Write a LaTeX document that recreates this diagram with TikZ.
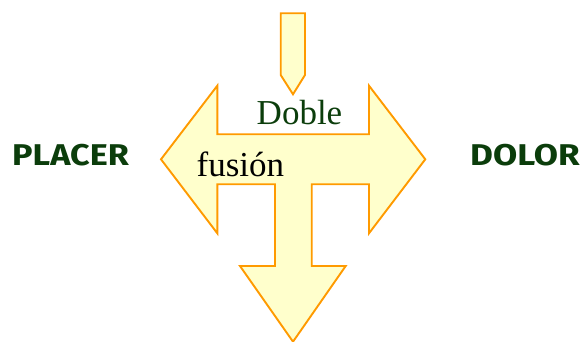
\documentclass[tikz,border=0pt]{standalone}
\usepackage{fontspec}
\setmainfont{Liberation Serif}
\newfontfamily\labelfont{Fira Sans}
\definecolor{arrowfill}{HTML}{FFFFCC}
\definecolor{arrowline}{HTML}{FF9A00}
\definecolor{darkgreen}{HTML}{0B3D0B}
\begin{document}
\begin{tikzpicture}[x=1pt,y=-1pt,
  arrowshape/.style={fill=arrowfill,draw=arrowline,line width=1.9pt,line join=miter},
  sidelabel/.style={font=\labelfont\bfseries\fontsize{30}{31}\selectfont,text=darkgreen,inner sep=0pt,anchor=base west},
  midlabel/.style={font=\fontsize{35}{36}\selectfont,inner sep=0pt}]
\useasboundingbox (0,0) rectangle (582,342);
% small arrow
\draw[arrowshape] (280.7,13.3) -- (305,13.3) -- (305,75) -- (293,94.3) -- (280.7,75) -- cycle;
% big T-shaped arrow
\draw[arrowshape] (161,159.3) -- (217.3,85.7) -- (217.3,134.3) -- (369,134.3) -- (369,85.7)
  -- (425.3,159.3) -- (369,233.3) -- (369,184.3) -- (311.7,184.3) -- (311.7,266)
  -- (345.7,266) -- (293,341.7) -- (240,266) -- (275,266) -- (275,184.3)
  -- (217.3,184.3) -- (217.3,233.3) -- cycle;
\node[midlabel,text=darkgreen,anchor=base] (doble) at (299.5,124.5) {Doble};
\node[midlabel,text=black,anchor=base west] (fusion) at (196.5,176.7) {fusión};
\node[sidelabel] (placer) at (12,165.5) {\scalebox{1.14}[1]{PLACER}};
\node[sidelabel] (dolor) at (470,165.5) {\scalebox{1.17}[1]{DOLOR}};
\end{tikzpicture}
\end{document}
